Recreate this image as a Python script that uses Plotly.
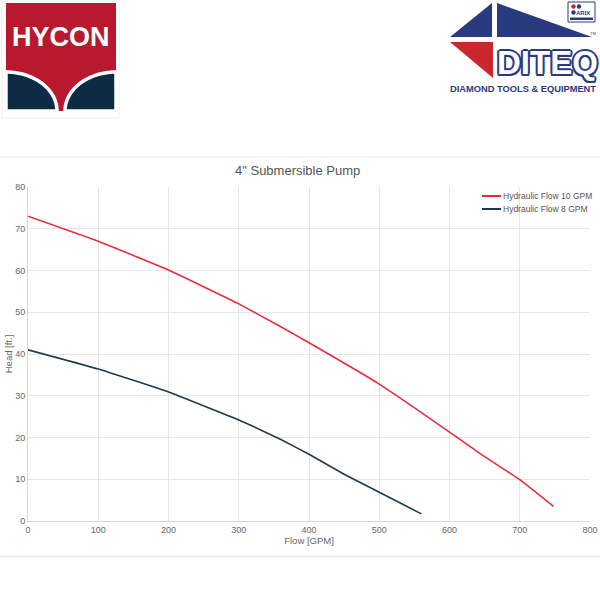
import numpy as np
import plotly.graph_objects as go

# ---- data ----
flow_10 = [0, 100, 200, 300, 358, 400, 500, 600, 643, 700, 748]
head_10 = [73.0, 67.0, 60.1, 52.0, 46.7, 42.7, 32.8, 21.3, 16.2, 9.9, 3.5]
flow_8 = [0, 100, 200, 300, 360, 400, 450, 500, 560]
head_8 = [41.0, 36.4, 30.9, 24.2, 19.5, 16.0, 11.2, 6.9, 1.7]
series_names = ["Hydraulic Flow 10 GPM", "Hydraulic Flow 8 GPM"]
series_colors = ["#ea2b3d", "#1d3a4e"]
x_ticks = [0, 100, 200, 300, 400, 500, 600, 700, 800]
y_ticks = [0, 10, 20, 30, 40, 50, 60, 70, 80]

W, H = 600, 600
ML, MR, MT, MB = 28, 10, 187, 79
PW, PH = W - ML - MR, H - MT - MB


def px(x):
    return (x - ML) / PW


def py(y):
    return (H - MB - y) / PH


fig = go.Figure()
fig.add_trace(go.Scatter(x=flow_10, y=head_10, mode="lines", name=series_names[0],
                         line=dict(color=series_colors[0], width=1.6, shape="spline", smoothing=0.3),
                         showlegend=False))
fig.add_trace(go.Scatter(x=flow_8, y=head_8, mode="lines", name=series_names[1],
                         line=dict(color=series_colors[1], width=1.6, shape="spline", smoothing=0.3),
                         showlegend=False))

shapes = []
annotations = []

# ---- separators ----
shapes.append(dict(type="line", xref="paper", yref="paper", x0=px(0), x1=px(600), y0=py(157), y1=py(157),
                   line=dict(color="#e6e6e6", width=1)))
shapes.append(dict(type="line", xref="paper", yref="paper", x0=px(0), x1=px(600), y0=py(556.5), y1=py(556.5),
                   line=dict(color="#e8e8e8", width=1.5)))

# ---- custom legend ----
for i, (nm, col) in enumerate(zip(series_names, series_colors)):
    yy = 196 + 13 * i
    shapes.append(dict(type="line", xref="paper", yref="paper", x0=px(482), x1=px(501), y0=py(yy), y1=py(yy),
                       line=dict(color=col, width=2)))
    annotations.append(dict(text=nm, xref="paper", yref="paper", x=px(501), y=py(yy), xanchor="left",
                            yanchor="middle", showarrow=False,
                            font=dict(family="Arial, Liberation Sans", size=8.5, color="#555")))

# ---- title ----
annotations.append(dict(text='4" Submersible Pump', xref="paper", yref="paper", x=px(297), y=py(170),
                        xanchor="center", yanchor="middle", showarrow=False,
                        font=dict(family="Arial, Liberation Sans", size=13, color="#555")))

# ---- HYCON logo ----
HR, HN = "#b8192f", "#0d2b45"
shapes.append(dict(type="rect", xref="paper", yref="paper", x0=px(2), x1=px(119), y0=py(1), y1=py(118),
                   line=dict(color="#eeeeee", width=1), fillcolor="white"))
shapes.append(dict(type="rect", xref="paper", yref="paper", x0=px(6), x1=px(116), y0=py(3), y1=py(111),
                   line=dict(width=0), fillcolor=HR))
t = np.linspace(0, np.pi / 2, 30)
for cx, sgn in [(6, 1), (116, -1)]:
    xs = cx + sgn * 51 * np.sin(t)
    ys = 111 - 39 * np.cos(t)
    pts = [(cx, 111)] + list(zip(xs, ys))
    path = "M " + " L ".join(f"{px(a):.5f},{py(b):.5f}" for a, b in pts) + " Z"
    shapes.append(dict(type="path", xref="paper", yref="paper", path=path,
                       fillcolor=HN, line=dict(color="white", width=3.5)))
shapes.append(dict(type="rect", xref="paper", yref="paper", x0=px(3), x1=px(6), y0=py(60), y1=py(112),
                   line=dict(width=0), fillcolor="white"))
shapes.append(dict(type="rect", xref="paper", yref="paper", x0=px(116), x1=px(119), y0=py(60), y1=py(112),
                   line=dict(width=0), fillcolor="white"))
annotations.append(dict(text="<b>HYCON</b>", xref="paper", yref="paper", x=px(61), y=py(37),
                        xanchor="center", yanchor="middle", showarrow=False,
                        font=dict(family="Arial, Liberation Sans", size=27, color="white")))

# ---- DITEQ logo ----
DN, DR = "#2a3a80", "#c9282e"


def poly(pts, fill):
    path = "M " + " L ".join(f"{px(a):.5f},{py(b):.5f}" for a, b in pts) + " Z"
    return dict(type="path", xref="paper", yref="paper", path=path, fillcolor=fill, line=dict(width=0))


shapes.append(poly([(450, 37), (492, 3), (492, 37)], DN))
shapes.append(poly([(497, 3), (497, 37), (592, 37)], DN))
shapes.append(poly([(450, 42), (493, 42), (493, 78)], DR))
annotations.append(dict(text="<b>DITEQ</b>", xref="paper", yref="paper", x=px(547), y=py(62),
                        xanchor="center", yanchor="middle", showarrow=False,
                        font=dict(family="Arial, Liberation Sans", size=33, color="white",
                                  shadow="-1.5px -1.5px 0 #2a3a80, 1.5px -1.5px 0 #2a3a80, -1.5px 1.5px 0 #2a3a80, 1.5px 1.5px 0 #2a3a80, 0 2px 0 #2a3a80, 0 -2px 0 #2a3a80, 2px 0 0 #2a3a80, -2px 0 0 #2a3a80")))
annotations.append(dict(text="<b>DIAMOND TOOLS &amp; EQUIPMENT</b>", xref="paper", yref="paper",
                        x=px(523), y=py(89), xanchor="center", yanchor="middle", showarrow=False,
                        font=dict(family="Arial, Liberation Sans", size=9.3, color=DN)))
annotations.append(dict(text="TM", xref="paper", yref="paper", x=px(593), y=py(33), xanchor="center",
                        yanchor="middle", showarrow=False, font=dict(family="Arial", size=4, color=DN)))
# ARIX badge
shapes.append(dict(type="rect", xref="paper", yref="paper", x0=px(568), x1=px(595), y0=py(2), y1=py(22),
                   line=dict(color=DN, width=1), fillcolor="white"))
for (cx, cy, c) in [(573.5, 6.5, DR), (579, 6.5, DN), (573.5, 12.5, DN)]:
    shapes.append(dict(type="circle", xref="paper", yref="paper", x0=px(cx - 2.2), x1=px(cx + 2.2),
                       y0=py(cy - 2.2), y1=py(cy + 2.2), line=dict(width=0), fillcolor=c))
shapes.append(dict(type="rect", xref="paper", yref="paper", x0=px(570), x1=px(593), y0=py(17.5), y1=py(20),
                   line=dict(width=0), fillcolor=DN))
annotations.append(dict(text="<b>ARIX</b>", xref="paper", yref="paper", x=px(583), y=py(12.5),
                        xanchor="center", yanchor="middle", showarrow=False,
                        font=dict(family="Arial", size=6, color=DN)))

axis_font = dict(family="Arial, Liberation Sans", size=9, color="#666")
fig.update_layout(
    width=W, height=H,
    margin=dict(l=ML, r=MR, t=MT, b=MB, autoexpand=False),
    paper_bgcolor="white", plot_bgcolor="white",
    showlegend=False,
    shapes=shapes,
    annotations=annotations,
    xaxis=dict(range=[0, 800], tickvals=x_ticks, showgrid=True, gridcolor="#e6e6e6", gridwidth=1,
               zeroline=False, showline=True, linecolor="#d8d8d8", ticks="", tickfont=axis_font,
               automargin=False,
               title=dict(text="Flow [GPM]", font=dict(family="Arial, Liberation Sans", size=9.5, color="#666"),
                          standoff=3)),
    yaxis=dict(range=[0, 80], tickvals=y_ticks, showgrid=True, gridcolor="#e6e6e6", gridwidth=1,
               zeroline=False, showline=True, linecolor="#d8d8d8", ticks="", tickfont=axis_font,
               automargin=False,
               title=dict(text="Head [ft.]", font=dict(family="Arial, Liberation Sans", size=9.5, color="#666"),
                          standoff=0)),
)

fig.write_html("out.html")
